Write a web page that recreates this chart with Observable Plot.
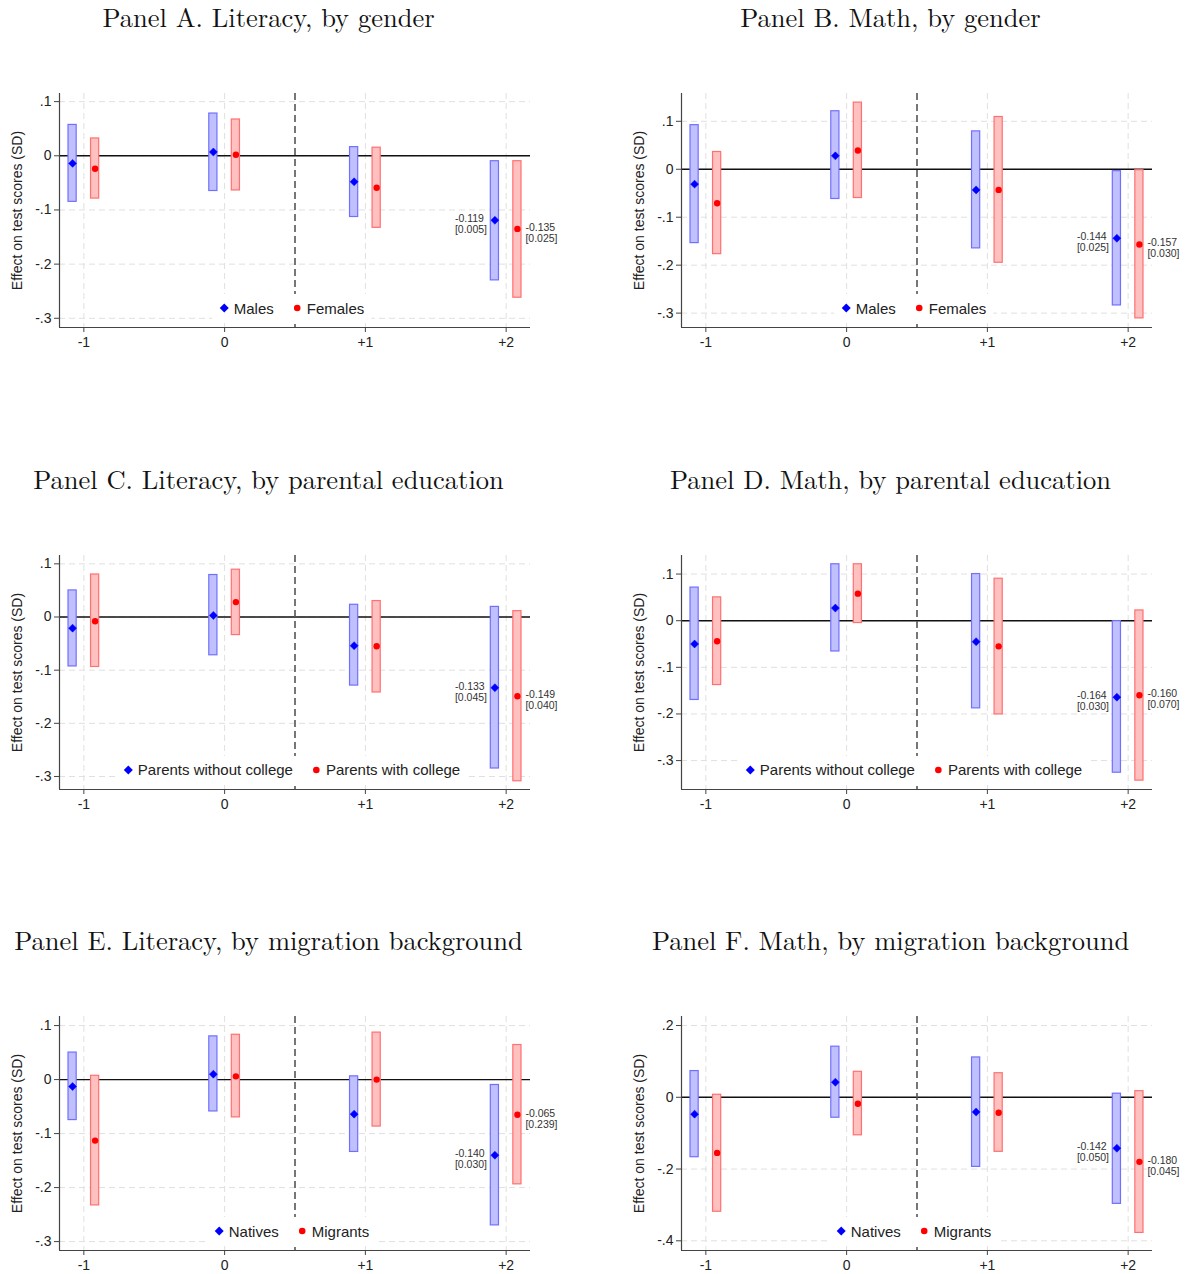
<!DOCTYPE html>
<html><head><meta charset="utf-8">
<script src="https://cdn.jsdelivr.net/npm/d3@7"></script>
<script src="https://cdn.jsdelivr.net/npm/@observablehq/plot@0.6"></script>
<style>
body{margin:0;background:#fff;}
#root{position:relative;width:1193px;height:1274px;background:#fff;font-family:"Liberation Sans",Arial,sans-serif;}
.title{position:absolute;width:530px;text-align:center;font-family:"Latin Modern Roman","CMU Serif","Liberation Serif","Times New Roman",serif;font-size:26.5px;line-height:32px;color:#111;white-space:nowrap;}
.panel{position:absolute;}
.legend{position:absolute;transform:translateX(-50%);display:flex;align-items:center;background:#fff;padding:0 7px;height:28px;font-size:15px;color:#222;white-space:nowrap;}
.legend svg{display:block;}
</style></head><body><div id="root"></div>
<script>
// ---------- data ----------
const periods = [-1, 0, 1, 2];
const periodLabels = ["-1", "0", "+1", "+2"];

const panelTitles = [
  "Panel A. Literacy, by gender",
  "Panel B. Math, by gender",
  "Panel C. Literacy, by parental education",
  "Panel D. Math, by parental education",
  "Panel E. Literacy, by migration background",
  "Panel F. Math, by migration background"
];
const genderGroups = ["Males", "Females"];
const eduGroups = ["Parents without college", "Parents with college"];
const migGroups = ["Natives", "Migrants"];

// each row: [estimate, lower CI, upper CI] for periods -1, 0, +1, +2
const litGenderMales   = [[-0.014,-0.085,0.057],[0.007,-0.065,0.078],[-0.048,-0.113,0.016],[-0.119,-0.230,-0.010]];
const litGenderFemales = [[-0.024,-0.079,0.032],[0.002,-0.064,0.067],[-0.059,-0.133,0.015],[-0.135,-0.262,-0.010]];
const mathGenderMales   = [[-0.031,-0.154,0.092],[0.028,-0.062,0.121],[-0.043,-0.165,0.079],[-0.144,-0.284,-0.004]];
const mathGenderFemales = [[-0.071,-0.177,0.036],[0.039,-0.060,0.139],[-0.043,-0.195,0.109],[-0.157,-0.311,-0.002]];
const litEduNoCollege = [[-0.021,-0.093,0.050],[0.003,-0.072,0.079],[-0.054,-0.129,0.023],[-0.133,-0.285,0.019]];
const litEduCollege   = [[-0.008,-0.094,0.080],[0.028,-0.034,0.089],[-0.055,-0.142,0.030],[-0.149,-0.309,0.011]];
const mathEduNoCollege = [[-0.050,-0.170,0.071],[0.027,-0.066,0.121],[-0.045,-0.188,0.100],[-0.164,-0.326,-0.001]];
const mathEduCollege   = [[-0.044,-0.138,0.050],[0.058,-0.005,0.121],[-0.055,-0.201,0.090],[-0.160,-0.343,0.022]];
const litMigNatives  = [[-0.013,-0.075,0.050],[0.010,-0.059,0.080],[-0.064,-0.134,0.006],[-0.140,-0.270,-0.010]];
const litMigMigrants = [[-0.113,-0.233,0.007],[0.006,-0.070,0.083],[0.000,-0.087,0.087],[-0.065,-0.194,0.064]];
const mathMigNatives  = [[-0.047,-0.167,0.073],[0.042,-0.057,0.141],[-0.041,-0.194,0.111],[-0.142,-0.297,0.010]];
const mathMigMigrants = [[-0.155,-0.319,0.007],[-0.018,-0.106,0.071],[-0.043,-0.152,0.067],[-0.180,-0.378,0.017]];

// p-values shown in brackets for period +2 (group 1, group 2)
const pA = [0.005, 0.025];
const pB = [0.025, 0.030];
const pC = [0.045, 0.040];
const pD = [0.030, 0.070];
const pE = [0.030, 0.239];
const pF = [0.050, 0.045];

const yTicksStd = [0.1, 0, -0.1, -0.2, -0.3];
const yTicksF = [0.2, 0, -0.2, -0.4];
const yDomA = [-0.317, 0.115];
const yDomB = [-0.330, 0.158];
const yDomC = [-0.3245, 0.1157];
const yDomD = [-0.362, 0.1398];
const yDomE = [-0.3165, 0.1168];
const yDomF = [-0.427, 0.2251];
const xDomain = [-1.173, 2.173];
const yLabel = "Effect on test scores (SD)";

// ---------- layout ----------
const panels = [
  {title: panelTitles[0], groups: genderGroups, s1: litGenderMales, s2: litGenderFemales, p: pA, ticks: yTicksStd, dom: yDomA},
  {title: panelTitles[1], groups: genderGroups, s1: mathGenderMales, s2: mathGenderFemales, p: pB, ticks: yTicksStd, dom: yDomB},
  {title: panelTitles[2], groups: eduGroups, s1: litEduNoCollege, s2: litEduCollege, p: pC, ticks: yTicksStd, dom: yDomC},
  {title: panelTitles[3], groups: eduGroups, s1: mathEduNoCollege, s2: mathEduCollege, p: pD, ticks: yTicksStd, dom: yDomD},
  {title: panelTitles[4], groups: migGroups, s1: litMigNatives, s2: litMigMigrants, p: pE, ticks: yTicksStd, dom: yDomE},
  {title: panelTitles[5], groups: migGroups, s1: mathMigNatives, s2: mathMigMigrants, p: pF, ticks: yTicksF, dom: yDomF}
];

const BLUE = "#0000ff", RED = "#ff0000";
const BLUE_FILL = "#c0c0ff", RED_FILL = "#ffc0c0";
const BLUE_STROKE = "#7070ff", RED_STROKE = "#ff7070";
const dodge = 0.08, halfW = 0.029;
const colOff = [0, 622], rowOff = [0, 461.5, 923];

const stataFmt = d => {
  if (Math.abs(d) < 1e-9) return "0";
  const s = Math.abs(d).toFixed(1).replace(/^0/, "");
  return (d < 0 ? "-" : "") + s;
};
const numFmt = v => (v < 0 ? "-" : "") + Math.abs(v).toFixed(3);

const root = document.getElementById("root");

panels.forEach((P, k) => {
  const col = k % 2, row = Math.floor(k / 2);
  const cx = colOff[col], cy = rowOff[row];

  // title
  const t = document.createElement("div");
  t.className = "title";
  t.textContent = P.title;
  t.style.left = (cx + 268.5 - 265) + "px";
  t.style.top = (cy + 0) + "px";
  root.appendChild(t);

  const rows = [];
  periods.forEach((per, i) => {
    rows.push({g: 0, x: per - dodge, est: P.s1[i][0], lo: P.s1[i][1], hi: P.s1[i][2], per});
    rows.push({g: 1, x: per + dodge, est: P.s2[i][0], lo: P.s2[i][1], hi: P.s2[i][2], per});
  });
  const g0 = rows.filter(d => d.g === 0), g1 = rows.filter(d => d.g === 1);
  const last = periods[periods.length - 1];
  const lab0 = g0.filter(d => d.per === last).map(d => ({...d, text: numFmt(d.est) + "\n[" + P.p[0].toFixed(3) + "]"}));
  const lab1 = g1.filter(d => d.per === last).map(d => ({...d, text: numFmt(d.est) + "\n[" + P.p[1].toFixed(3) + "]"}));

  const W = col === 0 ? 596 : 571;
  const plot = Plot.plot({
    width: W, height: 330,
    marginLeft: 59, marginRight: W - 530, marginTop: 53, marginBottom: 43,
    x: {domain: xDomain},
    y: {domain: P.dom},
    style: {fontFamily: "'Liberation Sans', Arial, sans-serif", fontSize: "14px", color: "#222", background: "transparent", overflow: "visible"},
    marks: [
      Plot.gridY(P.ticks, {stroke: "#e0e0e0", strokeOpacity: 1, strokeWidth: 1, strokeDasharray: "6,4"}),
      Plot.gridX(periods, {stroke: "#e0e0e0", strokeOpacity: 1, strokeWidth: 1, strokeDasharray: "6,4"}),
      Plot.ruleY([0], {stroke: "#111", strokeWidth: 1.4}),
      Plot.ruleX([0.5], {stroke: "#555", strokeWidth: 1.6, strokeDasharray: "7,4"}),
      Plot.rect(g0, {x1: d => d.x - halfW, x2: d => d.x + halfW, y1: "lo", y2: "hi", fill: BLUE_FILL, stroke: BLUE_STROKE, strokeWidth: 1.2}),
      Plot.rect(g1, {x1: d => d.x - halfW, x2: d => d.x + halfW, y1: "lo", y2: "hi", fill: RED_FILL, stroke: RED_STROKE, strokeWidth: 1.2}),
      Plot.dot(g0, {x: "x", y: "est", symbol: "diamond2", r: 3.6, fill: BLUE, stroke: BLUE, strokeWidth: 0.5}),
      Plot.dot(g1, {x: "x", y: "est", r: 3.2, fill: RED, stroke: "none"}),
      Plot.text(lab0, {x: "x", y: "est", text: "text", textAnchor: "start", lineAnchor: "top", dx: -40, dy: -6, fontSize: 10.5, lineHeight: 1.05, fill: "#333"}),
      Plot.text(lab1, {x: "x", y: "est", text: "text", textAnchor: "start", lineAnchor: "top", dx: 8, dy: -6, fontSize: 10.5, lineHeight: 1.05, fill: "#333"}),
      Plot.ruleX([xDomain[0]], {stroke: "#444", strokeWidth: 1.2}),
      Plot.ruleY([P.dom[0]], {stroke: "#444", strokeWidth: 1.2}),
      Plot.axisY(P.ticks, {tickSize: 5, tickPadding: 3, tickFormat: stataFmt, label: null, stroke: "#444"}),
      Plot.axisX(periods, {tickSize: 5, tickPadding: 5, tickFormat: d => periodLabels[periods.indexOf(d)], label: null, stroke: "#444"}),
      Plot.text([yLabel], {frameAnchor: "left", textAnchor: "middle", lineAnchor: "middle", dx: -42, rotate: -90, fontSize: 14, fill: "#222"})
    ]
  });
  plot.classList.add("panel");
  plot.style.left = cx + "px";
  plot.style.top = (cy + 40) + "px";
  root.appendChild(plot);

  // legend
  const lg = document.createElement("div");
  lg.className = "legend";
  lg.style.left = (cx + 291.5) + "px";
  lg.style.top = (cy + 308 - 14) + "px";
  lg.innerHTML =
    `<svg width="10" height="10"><polygon points="5,0.5 9.5,5 5,9.5 0.5,5" fill="${BLUE}"/></svg>` +
    `<span style="margin-left:5px">${P.groups[0]}</span>` +
    `<svg width="8" height="8" style="margin-left:19px"><circle cx="4" cy="4" r="3.3" fill="${RED}"/></svg>` +
    `<span style="margin-left:6px">${P.groups[1]}</span>`;
  root.appendChild(lg);
});
</script>
</body></html>
